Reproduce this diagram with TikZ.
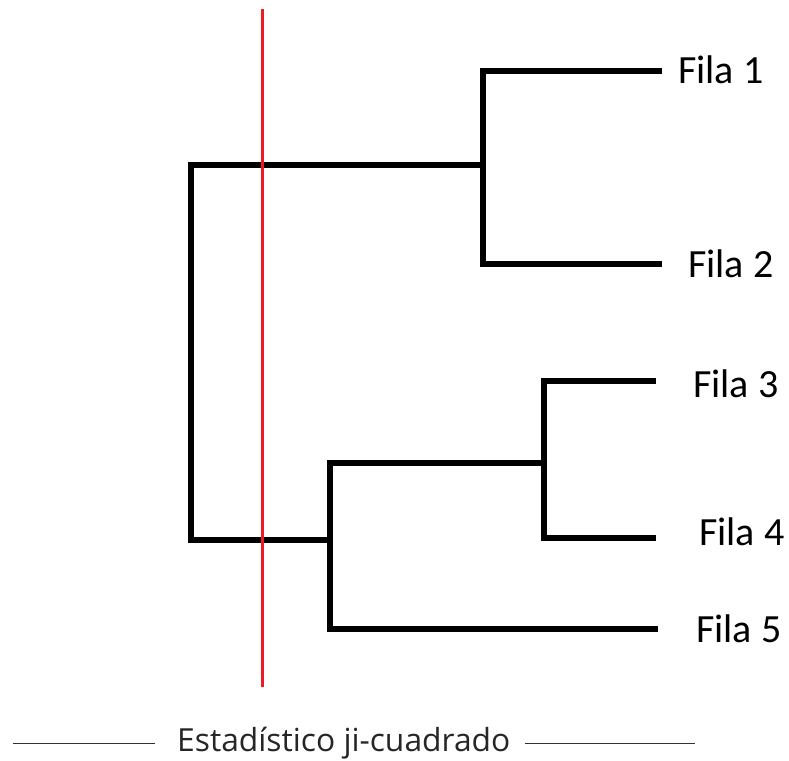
\documentclass[tikz,border=0pt]{standalone}
\usepackage{fontspec}
\setmainfont{Carlito}
\newfontfamily\axisfont{Open Sans}
\begin{document}
\begin{tikzpicture}[x=1pt,y=-1pt,
  tree/.style={draw=black,line width=5.5pt,line join=miter,line cap=butt},
  cut/.style={draw={rgb,255:red,237;green,28;blue,36},line width=3pt},
  leaf/.style={anchor=base west,inner sep=0pt,font=\fontsize{40}{40}\selectfont},
  axislbl/.style={anchor=base west,inner sep=0pt,text=black!85,font=\axisfont\fontsize{31.8}{32}\selectfont},
  axisline/.style={draw=black!80,line width=1.5pt}]
\useasboundingbox (0,0) rectangle (789,760);
% leaf labels
\node[leaf] (f1) at (678,83) {Fila 1};
\node[leaf] (f2) at (688,277) {Fila 2};
\node[leaf] (f3) at (693,397) {Fila 3};
\node[leaf] (f4) at (699,545) {Fila 4};
\node[leaf] (f5) at (696,642) {Fila 5};
% leaf ends
\coordinate (e1) at (662,71);
\coordinate (e2) at (662,264);
\coordinate (e3) at (656,381);
\coordinate (e4) at (656,538);
\coordinate (e5) at (658,629);
% junctions
\coordinate (j12) at (483,165);
\coordinate (j34) at (544,463);
\coordinate (j345) at (330,540);
\coordinate (root) at (191,165);
% clusters
\draw[tree] (e1) -- (e1 -| j12) -- (e2 -| j12) -- (e2);
\draw[tree] (e3) -- (e3 -| j34) -- (e4 -| j34) -- (e4);
\draw[tree] (j34) -- (j34 -| j345) -- (e5 -| j345) -- (e5);
\draw[tree] (j12) -- (root) -- (root |- j345) -- (j345);
% cut line
\coordinate (ct) at (262.5,9);
\coordinate (cb) at (262.5,687);
\draw[cut] (ct) -- (cb);
% axis label
\node[axislbl] (ax) at (177,751) {Estadístico ji-cuadrado};
\coordinate (al) at (13,743.5);
\coordinate (ar) at (695,743.5);
\draw[axisline] (al) -- (al -| 155,0);
\draw[axisline] (ar -| 525,0) -- (ar);
\end{tikzpicture}
\end{document}
